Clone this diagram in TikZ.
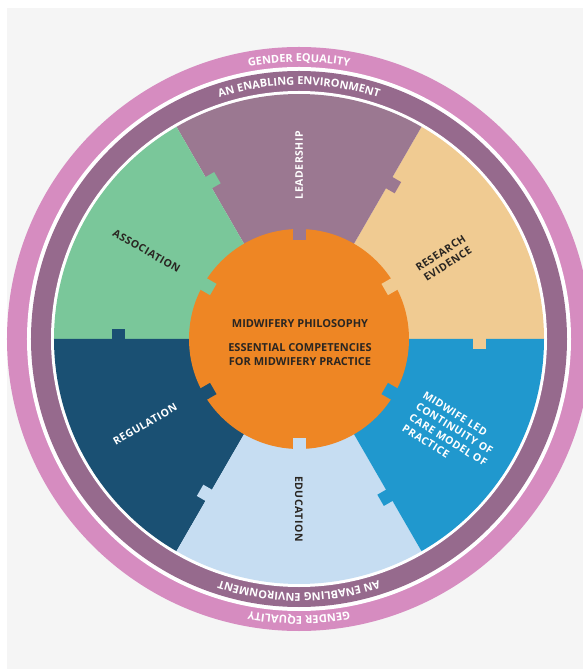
\documentclass[tikz,border=0pt]{standalone}
\usepackage{fontspec}
\setmainfont{Open Sans}
\usepackage{xcolor}
\usepackage{tikz}
\usetikzlibrary{decorations.text}

\definecolor{ringpink}{HTML}{D68CC0}
\definecolor{ringmauve}{HTML}{966A8D}
\definecolor{leadcol}{HTML}{9B7891}
\definecolor{rescol}{HTML}{F0CB92}
\definecolor{carecol}{HTML}{2098CE}
\definecolor{educol}{HTML}{C6DDF2}
\definecolor{regcol}{HTML}{1A5073}
\definecolor{assoccol}{HTML}{7AC79A}
\definecolor{corecol}{HTML}{EE8624}
\definecolor{inkdark}{HTML}{2A2622}
\definecolor{bggray}{HTML}{F5F5F5}

\begin{document}
\begin{tikzpicture}[x=1pt, y=1pt,
    seclabel/.style={font=\bfseries\fontsize{10.5}{13}\selectfont\addfontfeature{LetterSpace=5}, align=center, inner sep=0pt},
    corelabel/.style={font=\bfseries\fontsize{11}{14}\selectfont, align=center, inner sep=0pt, text=inkdark},
    ringtext/.style={decorate, decoration={text along path, text align=center, text={|\bfseries\fontsize{11}{13}\selectfont\color{white}|#1}}}
]

% Page and background
\clip (-299,-330) rectangle (284,339);
\fill[white] (-299,-330) rectangle (284,339);
\fill[bggray] (-292,-330) rectangle (284,331);

% Outer rings
\fill[ringpink] (0,0) circle (292);
\fill[white] (0,0) circle (272);
\fill[ringmauve] (0,0) circle (268);
\fill[white] (0,0) circle (248);

% Six sectors
\fill[rescol] (0,0) -- (0:245) arc (0:60:245) -- cycle;
\fill[leadcol] (0,0) -- (60:245) arc (60:120:245) -- cycle;
\fill[assoccol] (0,0) -- (120:245) arc (120:180:245) -- cycle;
\fill[regcol] (0,0) -- (180:245) arc (180:240:245) -- cycle;
\fill[educol] (0,0) -- (240:245) arc (240:300:245) -- cycle;
\fill[carecol] (0,0) -- (300:245) arc (300:360:245) -- cycle;

% Puzzle tabs, each sector keys into its clockwise neighbour
\fill[rescol, rotate=0] (174,1) rectangle (187,-10);
\fill[leadcol, rotate=60] (174,1) rectangle (187,-10);
\fill[assoccol, rotate=120] (174,1) rectangle (187,-10);
\fill[regcol, rotate=180] (174,1) rectangle (187,-10);
\fill[educol, rotate=240] (174,1) rectangle (187,-10);
\fill[carecol, rotate=300] (174,1) rectangle (187,-10);

% Core disc with its notches
\fill[corecol] (0,0) circle (110);
\fill[rescol, rotate=30] (99,-6.5) rectangle (112,6.5);
\fill[leadcol, rotate=90] (99,-6.5) rectangle (112,6.5);
\fill[assoccol, rotate=150] (99,-6.5) rectangle (112,6.5);
\fill[regcol, rotate=210] (99,-6.5) rectangle (112,6.5);
\fill[educol, rotate=270] (99,-6.5) rectangle (112,6.5);
\fill[carecol, rotate=330] (99,-6.5) rectangle (112,6.5);

% Sector labels
\node[seclabel, text=white, rotate=90] (lead) at (90:174) {LEADERSHIP};
\node[seclabel, text=inkdark, rotate=33] (research) at (29:166) {RESEARCH\\EVIDENCE};
\node[seclabel, text=white, rotate=-32, align=left] (care) at (-32:180) {MIDWIFE LED\\CONTINUITY OF\\CARE MODEL OF\\PRACTICE};
\node[seclabel, text=inkdark, rotate=-90] (edu) at (270:170) {EDUCATION};
\node[seclabel, text=white, rotate=30] (reg) at (209:176) {REGULATION};
\node[seclabel, text=inkdark, rotate=-30] (assoc) at (150:176) {ASSOCIATION};

% Core text
\node[corelabel] (philosophy) at (1,15) {MIDWIFERY PHILOSOPHY};
\node[corelabel] (competencies) at (1,-16) {ESSENTIAL COMPETENCIES\\FOR MIDWIFERY PRACTICE};

% Ring text, top and bottom
\path[ringtext=GENDER EQUALITY] (150:277) arc (150:30:277);
\path[ringtext=AN ENABLING ENVIRONMENT] (150:254) arc (150:30:254);
\path[ringtext=GENDER EQUALITY] (-30:277) arc (-30:-150:277);
\path[ringtext=AN ENABLING ENVIRONMENT] (-30:254) arc (-30:-150:254);

\end{tikzpicture}
\end{document}
